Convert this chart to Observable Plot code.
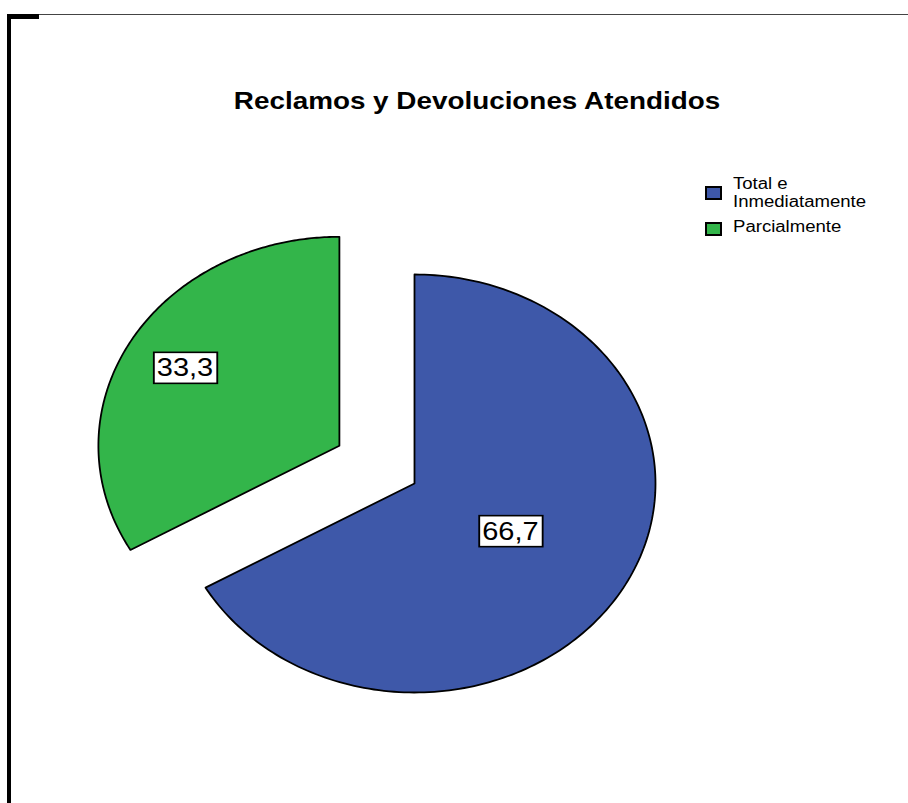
<!DOCTYPE html>
<html>
<head>
<meta charset="utf-8">
<script src="https://cdn.jsdelivr.net/npm/d3@7"></script>
<script src="https://cdn.jsdelivr.net/npm/@observablehq/plot@0.6"></script>
<style>
  html, body { margin: 0; padding: 0; background: #fff; }
  #page { position: relative; width: 908px; height: 803px; overflow: hidden; font-family: "Liberation Sans", Arial, sans-serif; }
  #chart { position: absolute; left: 0; top: 0; }
  .frame { position: absolute; background: #000; }
  #title { position: absolute; left: 477px; top: 87px; white-space: nowrap; font-weight: bold; font-size: 24px; line-height: 27px; color: #000; transform: translateX(-50%) scaleX(1.16); }
  #legend { position: absolute; left: 705px; top: 175px; }
  .item { position: relative; margin-bottom: 6.5px; }
  .sw { position: absolute; left: 0; width: 13px; height: 10px; border: 2px solid #000; }
  .lab { margin-left: 28px; font-size: 16px; line-height: 18px; white-space: nowrap; transform: scaleX(1.16); transform-origin: left center; color: #000; }
</style>
</head>
<body>
<div id="page">
  <div id="chart"></div>
  <div class="frame" style="left:7px;top:14px;width:901px;height:1px;background:#444"></div>
  <div class="frame" style="left:7px;top:14px;width:4px;height:789px"></div>
  <div class="frame" style="left:7px;top:14px;width:32px;height:5px"></div>
  <div id="title"></div>
  <div id="legend"></div>
</div>
<script>
// ---- data ----
const title = "Reclamos y Devoluciones Atendidos";
const categories = ["Total e Inmediatamente", "Parcialmente"];
const legendLines = [["Total e", "Inmediatamente"], ["Parcialmente"]];
const values = [66.7, 33.3];
const valueLabels = ["66,7", "33,3"];
const colors = ["#3e58a9", "#33b54a"];
const explode = [0, 0.36];
const labelRadius = [0.46, 0.74];

// ---- build slices ----
const arcs = d3.pie().sort(null).value(d => d)(values);
const pts = [];
const labelData = [];
arcs.forEach((a, i) => {
  const mid = (a.startAngle + a.endAngle) / 2;
  const ox = explode[i] * Math.sin(mid), oy = explode[i] * Math.cos(mid);
  pts.push({cat: categories[i], x: ox, y: oy});
  const n = 200;
  for (let k = 0; k <= n; k++) {
    const t = a.startAngle + (a.endAngle - a.startAngle) * k / n;
    pts.push({cat: categories[i], x: ox + Math.sin(t), y: oy + Math.cos(t)});
  }
  labelData.push({text: valueLabels[i], x: ox + labelRadius[i] * Math.sin(mid), y: oy + labelRadius[i] * Math.cos(mid)});
});

const chart = Plot.plot({
  width: 908,
  height: 803,
  margin: 0,
  x: {domain: [-1.7178, 2.0498], axis: null},
  y: {domain: [-1.5311, 2.311], axis: null},
  color: {domain: categories, range: colors},
  style: {fontFamily: "'Liberation Sans', Arial, sans-serif", background: "transparent"},
  marks: [
    Plot.line(pts, {x: "x", y: "y", z: "cat", fill: "cat", stroke: "#000", strokeWidth: 1.8, curve: "linear-closed"}),
    Plot.text(labelData, {x: "x", y: "y", text: "text", fontSize: 25, fill: "#000"})
  ]
});
document.getElementById("chart").appendChild(chart);

// label boxes (white rect with black border), horizontally stretched like the reference
const svgNS = "http://www.w3.org/2000/svg";
const textGroup = chart.querySelector('g[aria-label="text"]');
if (textGroup) {
  Array.from(textGroup.querySelectorAll("text")).forEach(t => {
    const r = t.getBoundingClientRect();
    const cx = r.left + r.width / 2, cy = r.top + r.height / 2;
    const g = document.createElementNS(svgNS, "g");
    g.setAttribute("transform", `translate(${cx},${cy}) scale(1.16,1) translate(${-cx},${-cy})`);
    const rect = document.createElementNS(svgNS, "rect");
    rect.setAttribute("x", r.left - 3);
    rect.setAttribute("y", r.top - 1.5);
    rect.setAttribute("width", r.width + 6);
    rect.setAttribute("height", r.height + 3);
    rect.setAttribute("fill", "#fff");
    rect.setAttribute("stroke", "#000");
    rect.setAttribute("stroke-width", 1.6);
    textGroup.insertBefore(g, t);
    g.appendChild(rect);
    g.appendChild(t);
  });
}

// title and legend
document.getElementById("title").textContent = title;
const legend = document.getElementById("legend");
categories.forEach((c, i) => {
  const item = document.createElement("div");
  item.className = "item";
  const sw = document.createElement("div");
  sw.className = "sw";
  sw.style.background = colors[i];
  sw.style.top = (legendLines[i].length > 1 ? 11 : 4) + "px";
  item.appendChild(sw);
  legendLines[i].forEach(line => {
    const l = document.createElement("div");
    l.className = "lab";
    l.textContent = line;
    item.appendChild(l);
  });
  legend.appendChild(item);
});
</script>
</body>
</html>
